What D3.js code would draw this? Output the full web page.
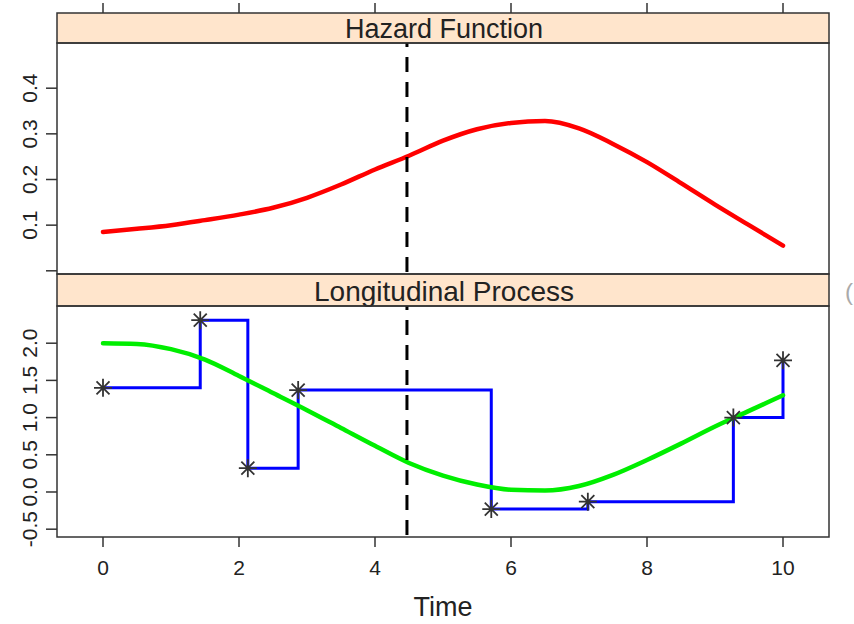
<!DOCTYPE html>
<html>
<head>
<meta charset="utf-8">
<script src="https://cdn.jsdelivr.net/npm/d3@7"></script>
<style>
  body { margin: 0; background: #fff; }
  svg { display: block; font-family: "Liberation Sans", Arial, sans-serif; }
</style>
</head>
<body>
<div id="chart"></div>
<script>
// data
const timeGrid = [0, 0.5, 1, 1.5, 2, 2.5, 3, 3.5, 4, 4.5, 5, 5.5, 6, 6.5, 7, 7.5, 8, 8.5, 9, 9.5, 10];
const hazard = [0.085, 0.092, 0.100, 0.111, 0.123, 0.138, 0.160, 0.189, 0.222, 0.252, 0.285,
  0.310, 0.324, 0.328, 0.312, 0.278, 0.238, 0.192, 0.145, 0.100, 0.055];
const longFit = [2.00, 1.99, 1.92, 1.78, 1.56, 1.33, 1.10, 0.86, 0.62, 0.39, 0.22,
  0.10, 0.03, 0.02, 0.08, 0.23, 0.43, 0.65, 0.88, 1.09, 1.30];
const obsTime = [0, 1.43, 2.13, 2.87, 5.71, 7.13, 9.27, 10];
const obsValue = [1.40, 2.31, 0.32, 1.37, -0.23, -0.13, 1.00, 1.77];
const cutTime = 4.47;
const xTicks = [0, 2, 4, 6, 8, 10];
const hazTicks = [0, 0.1, 0.2, 0.3, 0.4];
const hazLabels = ["", "0.1", "0.2", "0.3", "0.4"];
const longTicks = [-0.5, 0, 0.5, 1, 1.5, 2];
const longLabels = ["-0.5", "0.0", "0.5", "1.0", "1.5", "2.0"];
const stripTitles = ["Hazard Function", "Longitudinal Process"];

const width = 854, height = 624;
const left = 57, right = 829;
const frameCol = "#333";

const svg = d3.select("#chart").append("svg")
  .attr("width", width)
  .attr("height", height);

const x = d3.scaleLinear().domain([0, 10]).range([103, 783]);
const yHaz = d3.scaleLinear().domain([-0.007, 0.499]).range([274, 43]);
const yLong = d3.scaleLinear().domain([-0.605, 2.5]).range([537, 306]);

// panel boxes
const panels = [
  { strip: 13, top: 43, bottom: 274, y: yHaz, title: stripTitles[0], size: 27 },
  { strip: 274, top: 306, bottom: 537, y: yLong, title: stripTitles[1], size: 28 }
];

const defs = svg.append("defs");
panels.forEach((p, i) => {
  defs.append("clipPath").attr("id", "clip" + i)
    .append("rect")
    .attr("x", left).attr("y", p.top)
    .attr("width", right - left).attr("height", p.bottom - p.top);
});

// strips
panels.forEach(p => {
  svg.append("rect")
    .attr("x", left).attr("y", p.strip)
    .attr("width", right - left).attr("height", p.top - p.strip)
    .attr("fill", "#ffe5cc")
    .attr("stroke", frameCol).attr("stroke-width", 1.5);
  svg.append("text")
    .attr("x", (left + right) / 2 + 1)
    .attr("y", p.top - 5)
    .attr("text-anchor", "middle")
    .attr("font-size", p.size)
    .attr("fill", "#222")
    .text(p.title);
});

// hazard curve
const gHaz = svg.append("g").attr("clip-path", "url(#clip0)");
gHaz.append("path")
  .datum(timeGrid.map((t, i) => [t, hazard[i]]))
  .attr("fill", "none")
  .attr("stroke", "#ff0000")
  .attr("stroke-width", 4.5)
  .attr("stroke-linecap", "round")
  .attr("d", d3.line().x(d => x(d[0])).y(d => yHaz(d[1])).curve(d3.curveMonotoneX));

// longitudinal panel
const gLong = svg.append("g").attr("clip-path", "url(#clip1)");
gLong.append("path")
  .datum(obsTime.map((t, i) => [t, obsValue[i]]))
  .attr("fill", "none")
  .attr("stroke", "#0000ff")
  .attr("stroke-width", 3)
  .attr("d", d3.line().x(d => x(d[0])).y(d => yLong(d[1])).curve(d3.curveStepAfter));

gLong.append("path")
  .datum(timeGrid.map((t, i) => [t, longFit[i]]))
  .attr("fill", "none")
  .attr("stroke", "#00ee00")
  .attr("stroke-width", 4.5)
  .attr("stroke-linecap", "round")
  .attr("d", d3.line().x(d => x(d[0])).y(d => yLong(d[1])).curve(d3.curveMonotoneX));

// asterisks
const star = "M0,-9V9M-9,0H9M-6.5,-6.5L6.5,6.5M-6.5,6.5L6.5,-6.5";
gLong.selectAll(".star")
  .data(obsTime.map((t, i) => [t, obsValue[i]]))
  .enter()
  .append("path")
  .attr("class", "star")
  .attr("transform", d => `translate(${x(d[0])},${yLong(d[1])})`)
  .attr("d", star)
  .attr("stroke", "#333")
  .attr("stroke-width", 1.8)
  .attr("fill", "none");

// dashed cut line in each panel
[gHaz, gLong].forEach((g, i) => {
  g.append("line")
    .attr("x1", x(cutTime)).attr("x2", x(cutTime))
    .attr("y1", panels[i].top).attr("y2", panels[i].bottom)
    .attr("stroke", "#000")
    .attr("stroke-width", 3)
    .attr("stroke-dasharray", "15,10")
    .attr("stroke-dashoffset", 11);
});

// panel frames
panels.forEach(p => {
  svg.append("rect")
    .attr("x", left).attr("y", p.top)
    .attr("width", right - left).attr("height", p.bottom - p.top)
    .attr("fill", "none")
    .attr("stroke", frameCol).attr("stroke-width", 1.5);
});

// x axis: ticks on top (no labels) and bottom with labels
svg.selectAll(".xtop")
  .data(xTicks).enter().append("line")
  .attr("x1", d => x(d)).attr("x2", d => x(d))
  .attr("y1", 13).attr("y2", 3)
  .attr("stroke", frameCol).attr("stroke-width", 1.5);

svg.selectAll(".xbot")
  .data(xTicks).enter().append("line")
  .attr("x1", d => x(d)).attr("x2", d => x(d))
  .attr("y1", 537).attr("y2", 547)
  .attr("stroke", frameCol).attr("stroke-width", 1.5);

svg.selectAll(".xlab")
  .data(xTicks).enter().append("text")
  .attr("x", d => x(d)).attr("y", 575)
  .attr("text-anchor", "middle")
  .attr("font-size", 21)
  .attr("fill", "#222")
  .text(d => d);

svg.append("text")
  .attr("x", (left + right) / 2).attr("y", 616)
  .attr("text-anchor", "middle")
  .attr("font-size", 27)
  .attr("fill", "#222")
  .text("Time");

// y axes on the left
function yAxis(scale, ticks, labels) {
  svg.append("g").selectAll("line")
    .data(ticks).enter().append("line")
    .attr("x1", left).attr("x2", left - 11)
    .attr("y1", d => scale(d)).attr("y2", d => scale(d))
    .attr("stroke", frameCol).attr("stroke-width", 1.5);
  svg.append("g").selectAll("text")
    .data(ticks).enter().append("text")
    .attr("transform", d => `translate(37,${scale(d)}) rotate(-90)`)
    .attr("text-anchor", "middle")
    .attr("font-size", 21)
    .attr("fill", "#222")
    .text((d, i) => labels[i]);
}
yAxis(yHaz, hazTicks, hazLabels);
yAxis(yLong, longTicks, longLabels);

// partial glyph at the right edge of the source picture
svg.append("text")
  .attr("x", 845).attr("y", 300)
  .attr("font-size", 24)
  .attr("fill", "#aaa")
  .text("(");
</script>
</body>
</html>
